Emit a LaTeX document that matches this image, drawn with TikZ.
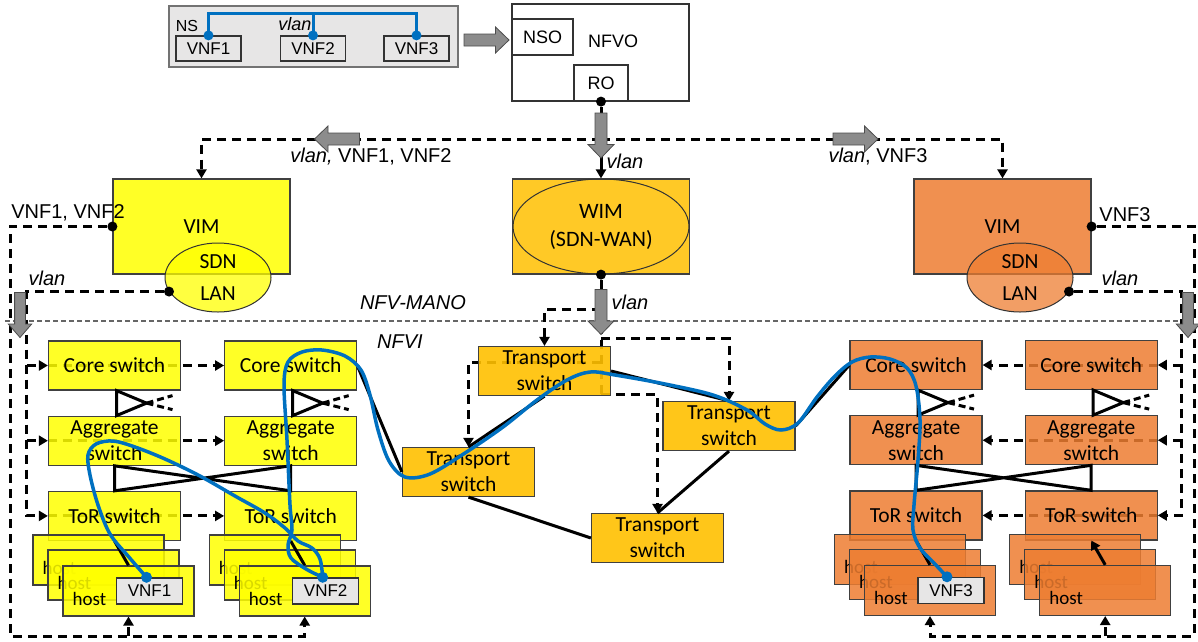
\documentclass[tikz,border=0pt]{standalone}
\usepackage{fontspec}
\setmainfont{Liberation Sans}
\newfontfamily\calfont{Carlito}
\usetikzlibrary{arrows.meta,calc,positioning,shapes.geometric,backgrounds}
\definecolor{dcyel}{RGB}{255,255,0}
\definecolor{dcgold}{RGB}{255,192,0}
\definecolor{dcorg}{RGB}{237,125,49}
\definecolor{dcblue}{RGB}{0,112,192}
\definecolor{dcgray}{RGB}{231,230,230}

\begin{document}
\begin{tikzpicture}[x=1pt,y=-1pt,>={Triangle[length=9pt,width=10pt]},
  every node/.style={align=center,inner sep=0pt},
  lbl/.style={font=\fontsize{20}{24}\selectfont},
  ilbl/.style={font=\fontsize{20}{24}\selectfont\itshape},
  sw/.style={draw=black!75,line width=1.2pt,fill opacity=.85,text opacity=1,minimum width=132pt,minimum height=49pt,font=\calfont\fontsize{21.5}{26}\selectfont},
  hostbox/.style={sw,minimum width=131pt,minimum height=50pt},
  hosttxt/.style={anchor=west,font=\calfont\fontsize{19}{22}\selectfont},
  vnfbox/.style={draw=black!80,line width=1.2pt,fill=dcgray,minimum width=66pt,minimum height=26pt,font=\fontsize{17}{20}\selectfont},
  mgr/.style={draw=black!75,line width=1.2pt,fill opacity=.85,text opacity=1,minimum width=177pt,minimum height=95pt,font=\calfont\fontsize{21.5}{26}\selectfont},
  lanell/.style={ellipse,draw=black!80,line width=1pt,fill opacity=.75,text opacity=1,minimum width=106pt,minimum height=69pt,font=\calfont\fontsize{21.5}{32}\selectfont},
  ctl/.style={line width=3pt,dash pattern=on 9pt off 6pt},
  link/.style={line width=3pt},
  dot/.style={circle,fill=black,minimum size=10pt},
  bdot/.style={circle,fill=dcblue,minimum size=11pt},
  vlink/.style={draw=dcblue,line width=3.5pt},
  fatarrow/.pic={\draw[draw=black!70,fill=black!45,line width=.8pt]
    (-22.5,-6) -- (9,-6) -- (9,-13) -- (22.5,0) -- (9,13) -- (9,6) -- (-22.5,6) -- cycle;}]
\useasboundingbox (0,0) rectangle (1198,641);

% network service request
\node[draw=black!55,line width=1.5pt,fill=dcgray,minimum width=289pt,minimum height=61pt] (ns) at (313.5,36.5) {};
\node[vnfbox,minimum width=65pt,minimum height=25pt] (nvA) at (208.5,48.5) {VNF1};
\node[vnfbox,minimum width=65pt,minimum height=25pt] (nvB) at (313,48.5) {VNF2};
\node[vnfbox,minimum width=65pt,minimum height=25pt] (nvC) at (416.5,48.5) {VNF3};
\node[font=\fontsize{16}{18}\selectfont] (nsLbl) at (187,26) {NS};
\node[font=\fontsize{18}{20}\selectfont\itshape] (nsVlan) at (295,24) {vlan};
\draw[vlink,line width=3pt] (nvA.north) -- ++(0,-22) -| (nvC.north);
\draw[vlink,line width=3pt] (nvB.north) -- ++(0,-22);
\node[bdot,minimum size=10pt] (nsdA) at (nvA.north) {};
\node[bdot,minimum size=10pt] (nsdB) at (nvB.north) {};
\node[bdot,minimum size=10pt] (nsdC) at (nvC.north) {};
\pic at (486.5,40) {fatarrow};

% orchestrator
\node[draw=black!80,line width=1.2pt,fill=white,minimum width=177pt,minimum height=97pt] (nfvo) at (600.5,52.5) {};
\node[draw=black!80,line width=1.2pt,fill=white,minimum width=61pt,minimum height=36pt,font=\fontsize{18}{20}\selectfont] (nso) at (542.5,37) {NSO};
\node[draw=black!80,line width=1.2pt,fill=white,minimum width=54pt,minimum height=36pt,font=\fontsize{18}{20}\selectfont] (ro) at (601,83) {RO};
\node[font=\fontsize{18}{20}\selectfont] (nfvoLbl) at (613,41) {NFVO};
\node[dot] (roDot) at (ro.south) {};
\coordinate (hub) at (601,139);

% VIMs and WIM
\node[mgr,fill=dcyel] (vimL) at (201.5,226.5) {VIM};
\node[lanell,fill=dcyel] (ellL) at (218,277.5) {SDN\\LAN};
\node[mgr,fill=dcgold] (wim) at (601,226.5) {};
\node[ellipse,draw=black!80,line width=1pt,minimum width=176pt,minimum height=95pt,font=\calfont\fontsize{22}{28}\selectfont] (wimEll) at (wim) {WIM\\(SDN-WAN)};
\node[mgr,fill=dcorg] (vimR) at (1002.5,226.5) {VIM};
\node[lanell,fill=dcorg] (ellR) at (1020,277.5) {SDN\\LAN};
\node[dot] (vimLDot) at (vimL.west) {};
\node[dot] (lanLDot) at (ellL.196) {};
\node[dot] (wimDot) at (wim.south) {};
\node[dot] (vimRDot) at (vimR.east) {};
\node[dot] (lanRDot) at (ellR.-16) {};

\node[ilbl] (vlanA) at (371,157) {vlan, \upshape VNF1, VNF2};
\node[ilbl] (vlanB) at (625,161) {vlan};
\node[ilbl] (vlanC) at (878,157) {vlan\upshape, VNF3};
\node[lbl] (vnfAB) at (68,213) {VNF1, VNF2};
\node[ilbl] (vlanD) at (47,278) {vlan};
\node[lbl] (vnfCC) at (1125,215) {VNF3};
\node[ilbl] (vlanE) at (1120,278) {vlan};
\node[ilbl] (vlanF) at (630,302) {vlan};
\node[ilbl] (manoLbl) at (413,303) {NFV-MANO};
\node[ilbl] (nfviLbl) at (400,342) {NFVI};
\coordinate (mL) at (5,321);
\coordinate (mR) at (1195,321);

% data centre 1
\node[sw,fill=dcyel] (coreA) at (114.5,365.5) {Core switch};
\node[sw,fill=dcyel,below=25pt of coreA] (aggA) {Aggregate\\switch};
\node[sw,fill=dcyel,below=25pt of aggA] (torA) {ToR switch};
\node[sw,fill=dcyel,right=43pt of coreA] (coreB) {Core switch};
\node[sw,fill=dcyel,below=25pt of coreB] (aggB) {Aggregate\\switch};
\node[sw,fill=dcyel,below=25pt of aggB] (torB) {ToR switch};

% transport network
\node[sw,fill=dcgold,fill opacity=.9] (trN) at (544.5,371) {Transport\\switch};
\node[sw,fill=dcgold,fill opacity=.9] (trW) at (468.5,472) {Transport\\switch};
\node[sw,fill=dcgold,fill opacity=.9] (trE) at (729,426) {Transport\\switch};
\node[sw,fill=dcgold,fill opacity=.9] (trS) at (657.5,538) {Transport\\switch};

% data centre 2
\node[sw,fill=dcorg] (coreC) at (916,365) {Core switch};
\node[sw,fill=dcorg,below=25pt of coreC] (aggC) {Aggregate\\switch};
\node[sw,fill=dcorg,below=25pt of aggC] (torC) {ToR switch};
\node[sw,fill=dcorg,right=42pt of coreC] (coreD) {Core switch};
\node[sw,fill=dcorg,below=25pt of coreD] (aggD) {Aggregate\\switch};
\node[sw,fill=dcorg,below=25pt of aggD] (torD) {ToR switch};

% hosts
\foreach \t/\c in {torA/dcyel,torB/dcyel,torC/dcorg,torD/dcorg}{
  \node[hostbox,fill=\c] (\t-h1) at ($(\t)+(-16,44)$) {};
  \node[hosttxt] (\t-l1) at ($(\t-h1.west)+(10,8)$) {host};
  \node[hostbox,fill=\c] (\t-h2) at ($(\t)+(-1,59)$) {};
  \node[hosttxt] (\t-l2) at ($(\t-h2.west)+(10,8)$) {host};
  \node[hostbox,fill=\c] (\t-h3) at ($(\t)+(14,75)$) {};
  \node[hosttxt] (\t-l3) at ($(\t-h3.west)+(10,8)$) {host};
}
\node[vnfbox] (vnfA) at ($(torA-h3)+(21,0)$) {VNF1};
\node[vnfbox] (vnfB) at ($(torB-h3)+(21,0)$) {VNF2};
\node[vnfbox] (vnfC) at ($(torC-h3)+(21,0)$) {VNF3};

\coordinate (railL) at (10,636);
\coordinate (railR) at (1194,636);
\coordinate (vlanL) at ([xshift=-21pt]torA.west);
\coordinate (vlanR) at ([xshift=24pt]torD.east);

% control paths
\begin{scope}[on background layer]
  \draw[black!60,line width=1.2pt,dash pattern=on 5pt off 3pt] (mL) -- (mR);
  \draw[link,->] (roDot) -- (wim.north);
  \draw[ctl,->] (hub) -| (vimL.north);
  \draw[ctl,->] (hub) -| (vimR.north);
  \draw[ctl,->] (vimLDot) -| (railL) -| (torB-h3.south);
  \draw[ctl,->] (torA-h3.south |- railL) -- (torA-h3.south);
  \draw[ctl,->] (lanLDot) -| (vlanL) -- (torA.west);
  \draw[ctl,->] (coreA.west -| vlanL) -- (coreA.west);
  \draw[ctl,->] (aggA.west -| vlanL) -- (aggA.west);
  \draw[ctl,->] (coreA.west) -- (coreB.west);
  \draw[ctl,->] (aggA.west) -- (aggB.west);
  \draw[ctl,->] (torA.west) -- (torB.west);
  \draw[ctl,->] (vimRDot) -| (railR) -| (torC-h3.south);
  \draw[ctl,->] (torD-h3.south |- railR) -- (torD-h3.south);
  \draw[ctl,->] (lanRDot) -| (vlanR) -- (torD.east);
  \draw[ctl,->] (coreD.east -| vlanR) -- (coreD.east);
  \draw[ctl,->] (aggD.east -| vlanR) -- (aggD.east);
  \draw[ctl,->] (coreD.east) -- (coreC.east);
  \draw[ctl,->] (aggD.east) -- (aggC.east);
  \draw[ctl,->] (torD.east) -- (torC.east);
  \draw[ctl] (wimDot) -- ($(wimDot)+(0,120)$);
  \draw[ctl,->] ($(wimDot)+(0,35)$) -| (trN.north);
  \draw[ctl,->] ($(wimDot)+(0,64)$) -| (trE.north);
  \draw[ctl,->] ($(wimDot)+(0,88)$) -| (trW.north);
  \draw[ctl,->] ($(wimDot)+(0,120)$) -| (trS.north);
\end{scope}

% configuration messages
\pic[rotate=-90] at (601,135.5) {fatarrow};
\pic[rotate=180] at (337,139) {fatarrow};
\pic at (855.5,139) {fatarrow};
\pic[rotate=-90] at (601,312) {fatarrow};
\pic[rotate=-90,yscale=.9] at (20,315) {fatarrow};
\pic[rotate=-90,yscale=.9] at (1188,315) {fatarrow};

% physical links
\foreach \c/\a in {coreA/aggA,coreB/aggB,coreC/aggC,coreD/aggD}{
  \draw[link] ($(\c.south)+(2,0)$) -- ($(\a.north)+(2,0)$) -- ($(\c.south)+(32,12.5)$) -- cycle;
  \draw[link,dash pattern=on 7pt off 4pt] ($(\c.south)+(32,12.5)$) -- ($(\c.south)+(58,19)$)
    ($(\c.south)+(32,12.5)$) -- ($(\c.south)+(58,5)$);
}
\draw[link] (aggA.south) -- (torA.north) -- (aggB.south) -- (torB.north) -- cycle;
\draw[link] (aggC.south) -- (torC.north) -- (aggD.south) -- (torD.north) -- cycle;
\draw[link] (torA.south) -- (torA-h3.north);
\draw[link] (torB.south) -- (torB-h3.north);
\draw[link] (torC.south) -- (torC-h3.north);
\draw[link,->] (torD-h3.north) -- (torD.south);
\draw[link] (coreB.east) -- (trW.west);
\draw[link] (trN.south) -- (trW.north);
\draw[link] (trN.east) -- (trE.north);
\draw[link] (trE.south) -- (trS.north);
\draw[link] (trW.south) -- (trS.west);
\draw[link] (trE.east) -- (coreC.west);

% vlan path
\node[bdot] (dA) at ($(vnfA.north)+(-3,0)$) {};
\node[bdot] (dB) at ($(vnfB.north)+(-3,0)$) {};
\node[bdot] (dC) at ($(vnfC.north)+(-4,0)$) {};
\draw[vlink] plot[smooth,tension=.55] coordinates {(dA.center) (128,556) (110,534) (98,505) (90,475) (88,455) (96,444) (113,441) (135,447) (165,459) (200,476) (235,496) (265,513) (285,528) (298,541) (312,548) (320,559) (dB.center)};
\draw[vlink] plot[smooth,tension=.55] coordinates {(dB.center) (306,569) (291,558) (288,545) (292,530) (290,505) (287,440) (284,385) (288,362) (302,352) (322,350) (345,356) (361,370) (370,395) (378,430) (389,461) (405,477) (430,474) (465,453) (503,427) (537,400) (567,380) (590,372) (615,375) (665,384) (713,395) (747,410) (765,424) (781,430) (798,423) (817,397) (835,376) (852,362) (870,357) (890,359) (907,368) (916,386) (920,420) (918,460) (914,505) (913,530) (920,548) (933,562) (dC.center)};
\end{tikzpicture}
\end{document}
